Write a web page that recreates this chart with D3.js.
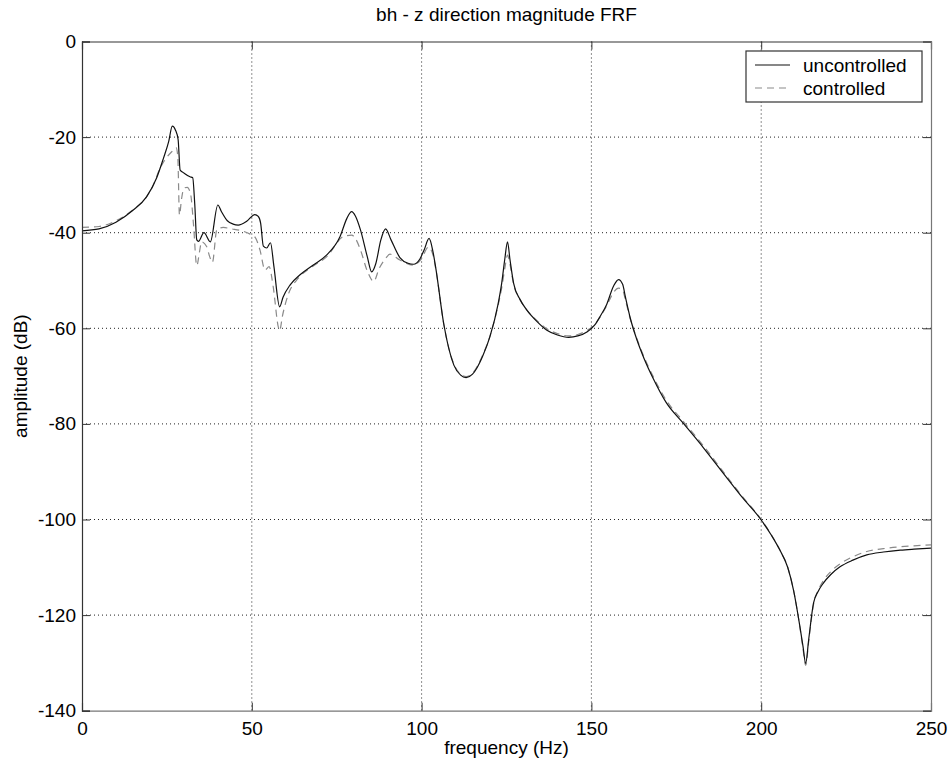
<!DOCTYPE html>
<html>
<head>
<meta charset="utf-8">
<script src="https://cdn.jsdelivr.net/npm/d3@7"></script>
<style>
  html, body { margin: 0; padding: 0; background: #fff; }
  svg { display: block; font-family: "Liberation Sans", Arial, sans-serif; }
</style>
</head>
<body>
<svg id="chart" width="949" height="763"></svg>
<script>
// ---- data ----
const chartTitle = "bh - z direction magnitude FRF";
const xLabel = "frequency (Hz)";
const yLabel = "amplitude (dB)";
const seriesNames = ["uncontrolled", "controlled"];
const xTicks = [0, 50, 100, 150, 200, 250];
const yTicks = [0, -20, -40, -60, -80, -100, -120, -140];
const xTickLabels = ["0", "50", "100", "150", "200", "250"];
const yTickLabels = ["0", "-20", "-40", "-60", "-80", "-100", "-120", "-140"];

const freqUncontrolled = [0,5,10,15,19,22,24,25.5,26.6,27.5,28.3,28.9,30,31.8,32.6,33.2,33.8,34.3,35.9,37.8,40,41,42.8,44.5,46,48.5,50.9,51.9,52.6,53.4,54.4,55.5,56.5,58.2,59.2,61.3,64.2,68,72,76,78,79.4,80.5,82,84,85.3,86.5,88,89.4,91,93.6,96,97.6,99.5,100.8,102.2,103.3,104.2,106.5,109.5,111.5,113.1,115,116.2,118,120.1,122.5,123.6,124.5,125.3,126,127.1,129,131,134,136.9,140,143.3,146,148.8,151,152.5,154.5,156.5,158,159.2,160,161.5,163.4,165.5,168.2,172,177.1,183,188.8,194,200,203,205.5,207.8,209.5,211.4,212.3,213.1,214,215.4,216.8,218.3,220.5,223.2,227,231.1,236,241,245,250];
const ampUncontrolled = [-39.6,-39.2,-37.8,-35.3,-32.5,-28.5,-24.4,-21,-17.7,-18.5,-20.5,-26.9,-27.5,-28.3,-28.5,-34,-41.5,-41.8,-40,-41.9,-34.2,-35.5,-37.5,-38.2,-38.4,-37.6,-36.2,-36.6,-38,-42.8,-43.2,-42.1,-47,-55.5,-53.5,-50.9,-48.8,-46.8,-44.7,-40.8,-37,-35.6,-36.5,-39.4,-45,-48.2,-46.5,-41.5,-39.2,-41.5,-45.2,-46.4,-46.6,-45.5,-43.5,-41.2,-43.8,-47.5,-59,-67.7,-69.8,-70.3,-69.6,-68.4,-65.8,-61.8,-55,-50.5,-45.5,-41.9,-45.5,-50.6,-54,-56.2,-58.6,-60.4,-61.4,-61.9,-61.6,-60.7,-59.3,-57.6,-55,-51.2,-49.8,-50.8,-53.4,-58,-62.4,-66.3,-70.5,-75.5,-79.9,-85,-90.3,-95,-100.1,-103.3,-106.4,-110,-114.7,-122.4,-126.5,-130.1,-125,-117.5,-115,-113.3,-111.5,-109.9,-108.5,-107.4,-106.8,-106.4,-106.2,-106];

const freqControlled = [0,5,10,15,19,21,23,25,26.5,27.7,28.2,28.7,29.3,30,31,32,32.8,33.8,34.6,35.2,36.7,37.6,38.4,39.7,41.6,44,46.5,49.5,51,52.4,53.9,55.1,56.3,57.8,58.2,59,60.8,63.2,64.2,68,72.1,77,79.4,80.5,82,84,85.9,87.5,89.5,90.7,93.6,97.6,100,102,103.3,104.2,106.5,109.5,111.5,113.1,115,116.2,118,120.1,122.5,123.6,124.5,125.3,126,127.1,129,131,134,136.9,140,143.3,146,148.8,151,152.5,154.5,156.5,158,159.2,160,161.5,163.4,165.5,168.2,172,177.1,183,188.8,194,200,203,205.5,207.8,209.5,211.4,212.3,213.1,214,215.4,216.8,218.3,220.5,223.2,227,231.1,236,241,245,250];
const ampControlled = [-38.9,-38.7,-37.5,-35.2,-32.5,-30,-26.5,-24.2,-23,-22.2,-24,-36.3,-33,-30.7,-30.5,-32,-38,-46.9,-44,-41.9,-42.9,-45,-46.2,-39.4,-38.9,-39.2,-39.5,-40.3,-41,-43.6,-47.8,-47.1,-51.3,-59.7,-60.5,-57.5,-52.8,-49.9,-49.1,-47,-45,-40.8,-40.5,-41.2,-43.6,-48,-50.2,-47.5,-45.3,-44.5,-45.7,-46.8,-45.4,-43,-44.5,-47.7,-59,-67.5,-69.6,-70.1,-69.4,-68.2,-65.6,-61.7,-55.3,-51.5,-47.5,-44.7,-46.5,-50.8,-54,-56.2,-58.4,-60.1,-61.1,-61.6,-61.3,-60.4,-59.2,-57.7,-55.3,-52.5,-51.6,-52,-54,-58.2,-62.2,-66,-70.1,-75,-79.5,-84.6,-90,-94.8,-100,-103.2,-106.4,-110,-114.7,-122.6,-127,-130.5,-125.5,-117.8,-114.8,-112.8,-110.9,-109.3,-107.8,-106.7,-106.1,-105.7,-105.5,-105.3];

// ---- layout ----
const W = 949, H = 763;
const margin = { left: 82, top: 41.5, right: 18, bottom: 52.3 };
const iw = W - margin.left - margin.right;
const ih = H - margin.top - margin.bottom;
const FS = 19;

const svg = d3.select("#chart");
const g = svg.append("g").attr("transform", `translate(${margin.left},${margin.top})`);

const x = d3.scaleLinear().domain([0, 250]).range([0, iw]);
const y = d3.scaleLinear().domain([-140, 0]).range([ih, 0]);

// grid
g.append("g").selectAll("line").data(xTicks.slice(1, -1)).join("line")
  .attr("x1", d => x(d)).attr("x2", d => x(d)).attr("y1", 0).attr("y2", ih)
  .attr("stroke", "#222").attr("stroke-width", 1).attr("stroke-dasharray", "1,3");
g.append("g").selectAll("line").data(yTicks.slice(1, -1)).join("line")
  .attr("y1", d => y(d)).attr("y2", d => y(d)).attr("x1", 0).attr("x2", iw)
  .attr("stroke", "#222").attr("stroke-width", 1).attr("stroke-dasharray", "1,3");

// curves
const line = d3.line().x(d => x(d[0])).y(d => y(d[1])).curve(d3.curveMonotoneX);
const dataU = freqUncontrolled.map((f, i) => [f, ampUncontrolled[i]]);
const dataC = freqControlled.map((f, i) => [f, ampControlled[i]]);

svg.append("defs").append("clipPath").attr("id", "clip")
  .append("rect").attr("x", 0).attr("y", 0).attr("width", iw).attr("height", ih);

g.append("path").datum(dataC).attr("d", line).attr("fill", "none")
  .attr("stroke", "#8a8a8a").attr("stroke-width", 1.2).attr("stroke-dasharray", "7,5")
  .attr("clip-path", "url(#clip)");
g.append("path").datum(dataU).attr("d", line).attr("fill", "none")
  .attr("stroke", "#111").attr("stroke-width", 1.2)
  .attr("clip-path", "url(#clip)");

// axes (box with inward ticks on all sides)
const tickLen = 8;
const xAxisB = d3.axisBottom(x).tickValues(xTicks).tickSize(-tickLen).tickPadding(11)
  .tickFormat((d, i) => xTickLabels[i]);
const yAxisL = d3.axisLeft(y).tickValues(yTicks).tickSize(-tickLen).tickPadding(6)
  .tickFormat((d, i) => yTickLabels[i]);
const xAxisT = d3.axisTop(x).tickValues(xTicks).tickSize(-tickLen).tickFormat("");
const yAxisR = d3.axisRight(y).tickValues(yTicks).tickSize(-tickLen).tickFormat("");

const gxB = g.append("g").attr("transform", `translate(0,${ih})`).call(xAxisB);
const gyL = g.append("g").call(yAxisL);
const gxT = g.append("g").call(xAxisT);
const gyR = g.append("g").attr("transform", `translate(${iw},0)`).call(yAxisR);

[gxB, gyL, gxT, gyR].forEach(a => {
  a.select(".domain").attr("stroke", "#333").attr("stroke-width", 1.2);
  a.selectAll(".tick line").attr("stroke", "#333");
  a.selectAll("text").attr("font-size", FS).attr("fill", "#000")
    .attr("font-family", '"Liberation Sans", Arial, sans-serif');
});
gxB.select(".domain").attr("stroke", "#777");
gyR.select(".domain").attr("stroke", "#777");

// titles
svg.append("text").attr("x", margin.left + iw / 2).attr("y", 21)
  .attr("text-anchor", "middle").attr("font-size", FS).text(chartTitle);
svg.append("text").attr("x", margin.left + iw / 2).attr("y", 754)
  .attr("text-anchor", "middle").attr("font-size", FS).text(xLabel);
svg.append("text").attr("transform", `translate(27,${margin.top + ih / 2}) rotate(-90)`)
  .attr("text-anchor", "middle").attr("font-size", FS).text(yLabel);

// legend
const lg = svg.append("g");
lg.append("rect").attr("x", 746).attr("y", 51).attr("width", 176).attr("height", 51)
  .attr("fill", "#fff").attr("stroke", "#333").attr("stroke-width", 1.2);
const legendRows = [
  { name: seriesNames[0], color: "#111", dash: null, y: 65 },
  { name: seriesNames[1], color: "#8a8a8a", dash: "7,5", y: 88 }
];
legendRows.forEach(r => {
  lg.append("line").attr("x1", 755).attr("x2", 790).attr("y1", r.y).attr("y2", r.y)
    .attr("stroke", r.color).attr("stroke-width", 1.2).attr("stroke-dasharray", r.dash);
  lg.append("text").attr("x", 803).attr("y", r.y).attr("dy", "0.35em")
    .attr("font-size", FS).text(r.name);
});
</script>
</body>
</html>
